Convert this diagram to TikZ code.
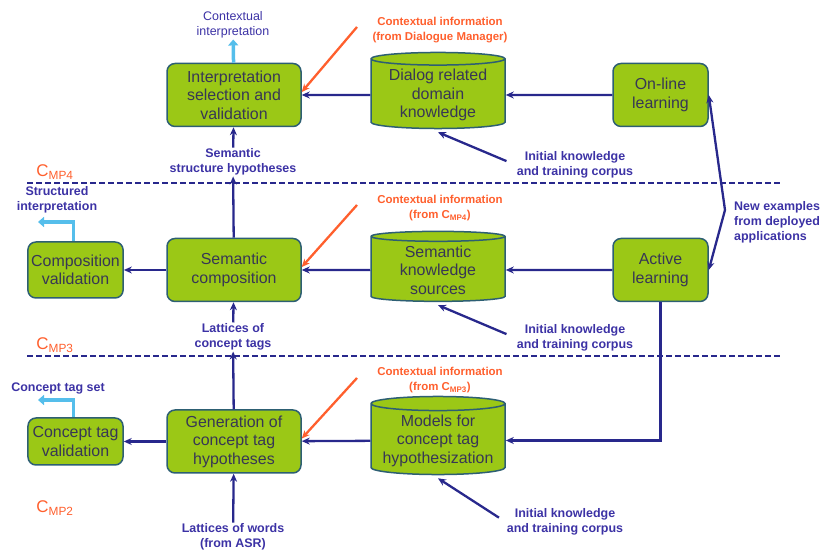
\documentclass[tikz,border=0pt]{standalone}
\usepackage{fontspec}
\setmainfont{Liberation Sans}
\usetikzlibrary{shapes.geometric,arrows.meta,positioning}

\definecolor{leaf}{RGB}{155,200,22}
\definecolor{rim}{RGB}{45,95,115}
\definecolor{navy}{RGB}{40,40,140}
\definecolor{ink}{RGB}{55,55,85}
\definecolor{tagblue}{RGB}{60,50,165}
\definecolor{ctxred}{RGB}{255,95,45}
\definecolor{sky}{RGB}{85,190,235}

\begin{document}
\begin{tikzpicture}[x=1bp, y=1bp, node distance=175bp,
		>={Stealth[length=8bp,width=7bp]},
		bigbox/.style={rectangle, rounded corners=8bp, draw=rim, line width=1.5bp,
			fill=leaf, text=ink, align=center, minimum width=134bp, minimum height=63bp,
			font=\fontsize{16}{18.5}\selectfont},
		smallbox/.style={bigbox, minimum width=95bp},
		store/.style={cylinder, shape border rotate=90, aspect=0.12, draw=rim,
			line width=1.5bp, fill=leaf, text=ink, align=center, minimum width=134bp,
			minimum height=72bp, font=\fontsize{16}{18.5}\selectfont},
		flow/.style={draw=navy, line width=2.3bp, ->},
		tag/.style={text=tagblue, align=center, inner sep=1bp,
			font=\bfseries\fontsize{12.5}{15}\selectfont},
		ctx/.style={text=ctxred, align=center, inner sep=1bp,
			font=\bfseries\fontsize{11.5}{15}\selectfont},
		ctxline/.style={draw=ctxred, line width=2.3bp, ->},
		outarrow/.style={draw=sky, line width=3.5bp, >={Triangle[length=6bp,width=10bp]}, ->},
		level/.style={text=ctxred, font=\fontsize{17}{17}\selectfont},
		cut/.style={draw=navy, line width=1.6bp, dash pattern=on 6bp off 3bp}
		]
		\useasboundingbox (0,0) rectangle (824,551);

		% processing stages
		\node[bigbox] (P2) at (234,281) {Semantic\\composition};
		\node[bigbox, above of = P2] (V1) {Interpretation\\selection and\\validation};
		\node[bigbox, below of = P2, yshift = 3.5bp] (P3) {Generation of\\concept tag\\hypotheses};
		\node[smallbox, left of = P2, xshift = 16.5bp, minimum height=56bp] (V2) {Composition\\validation};
		\node[smallbox, left of = P3, xshift = 16.5bp, minimum height=47bp] (V3) {Concept tag\\validation};

		% knowledge stores and learning
		\node[store, right of = V1, xshift = 29bp] (K1) {Dialog related\\domain\\knowledge};
		\node[store, right of = P2, xshift = 29bp, minimum height=70bp] (K2) {Semantic\\knowledge\\sources};
		\node[store, right of = P3, xshift = 29bp, yshift = 1bp, minimum height=75bp] (K3) {Models for\\concept tag\\hypothesization};
		\node[smallbox, right of = K1, xshift = 47.5bp] (L1) {On-line\\learning};
		\node[smallbox, right of = K2, xshift = 47.5bp] (L2) {Active\\learning};

		% labels
		\node[tag, font=\fontsize{12.5}{15}\selectfont] (T3) at (233,526) {Contextual\\interpretation};
		\node[tag] (T1) at (233,389) {Semantic\\structure hypotheses};
		\node[tag] (T2) at (233,214) {Lattices of\\concept tags};
		\node[tag] (T0) at (233,14) {Lattices of words\\(from ASR)};
		\node[tag] (S2) at (57,351) {Structured\\interpretation};
		\node[tag] (S3) at (58,163) {Concept tag set};
		\node[tag, align=left, anchor=west] (N1) at (733,329) {New examples\\from deployed\\applications};
		\node[tag] (I1) at (575,386) {Initial knowledge\\and training corpus};
		\node[tag] (I2) at (575,213) {Initial knowledge\\and training corpus};
		\node[tag] (I3) at (565,29) {Initial knowledge\\and training corpus};
		\node[ctx] (R1) at (440,521) {Contextual information\\(from Dialogue Manager)};
		\node[ctx] (R2) at (440,343) {Contextual information\\(from C\textsubscript{MP4})};
		\node[ctx] (R3) at (440,171) {Contextual information\\(from C\textsubscript{MP3})};
		\node[level] (M4) at (55,379) {C\textsubscript{MP4}};
		\node[level] (M3) at (55,206) {C\textsubscript{MP3}};
		\node[level] (M2) at (55,43) {C\textsubscript{MP2}};

		\coordinate (A1) at (357,524);
		\coordinate (A2) at (357,346);
		\coordinate (A3) at (357,173);
		\coordinate (B1) at (725,341);
		\coordinate (U2) at (38,329);
		\coordinate (U3) at (38,151);
		\coordinate (D1) at (27,368);
		\coordinate (E1) at (783,368);
		\coordinate (D2) at (27,195);
		\coordinate (E2) at (783,195);

		% level borders
		\draw[cut] (D1) -- (E1);
		\draw[cut] (D2) -- (E2);

		% main flow
		\draw[flow] (L1) -- (K1);
		\draw[flow] (K1) -- (V1);
		\draw[flow] (L2) -- (K2);
		\draw[flow] (K2) -- (P2);
		\draw[flow] (P2) -- (V2);
		\draw[flow] (K3) -- (P3);
		\draw[flow] (P3) -- (V3);
		\draw[flow] (L2.south) |- (K3.east);
		\draw[flow, <->] (L1.east) -- (B1) -- (L2.east);
		\draw[flow] (T0) -- (P3);
		\draw[flow] (P3) -- (T2);
		\draw[flow] (T2) -- (P2);
		\draw[flow] (P2) -- (T1);
		\draw[flow] (T1) -- (V1);
		\draw[flow, shorten <=10bp] (I1.west) -- ([yshift=-3bp]K1.south);
		\draw[flow, shorten <=10bp] (I2.west) -- ([yshift=-3bp]K2.south);
		\draw[flow, shorten <=8bp] (I3.west) -- ([yshift=-3bp]K3.south);

		% context
		\draw[ctxline] (A1) -- ([yshift=3bp]V1.east);
		\draw[ctxline] (A2) -- ([yshift=3bp]P2.east);
		\draw[ctxline] (A3) -- ([yshift=3bp]P3.east);

		% outputs
		\draw[outarrow] (V1) -- (T3);
		\draw[outarrow] ([xshift=-2bp]V2.north) |- (U2);
		\draw[outarrow] ([xshift=-2bp]V3.north) |- (U3);
	\end{tikzpicture}
\end{document}
